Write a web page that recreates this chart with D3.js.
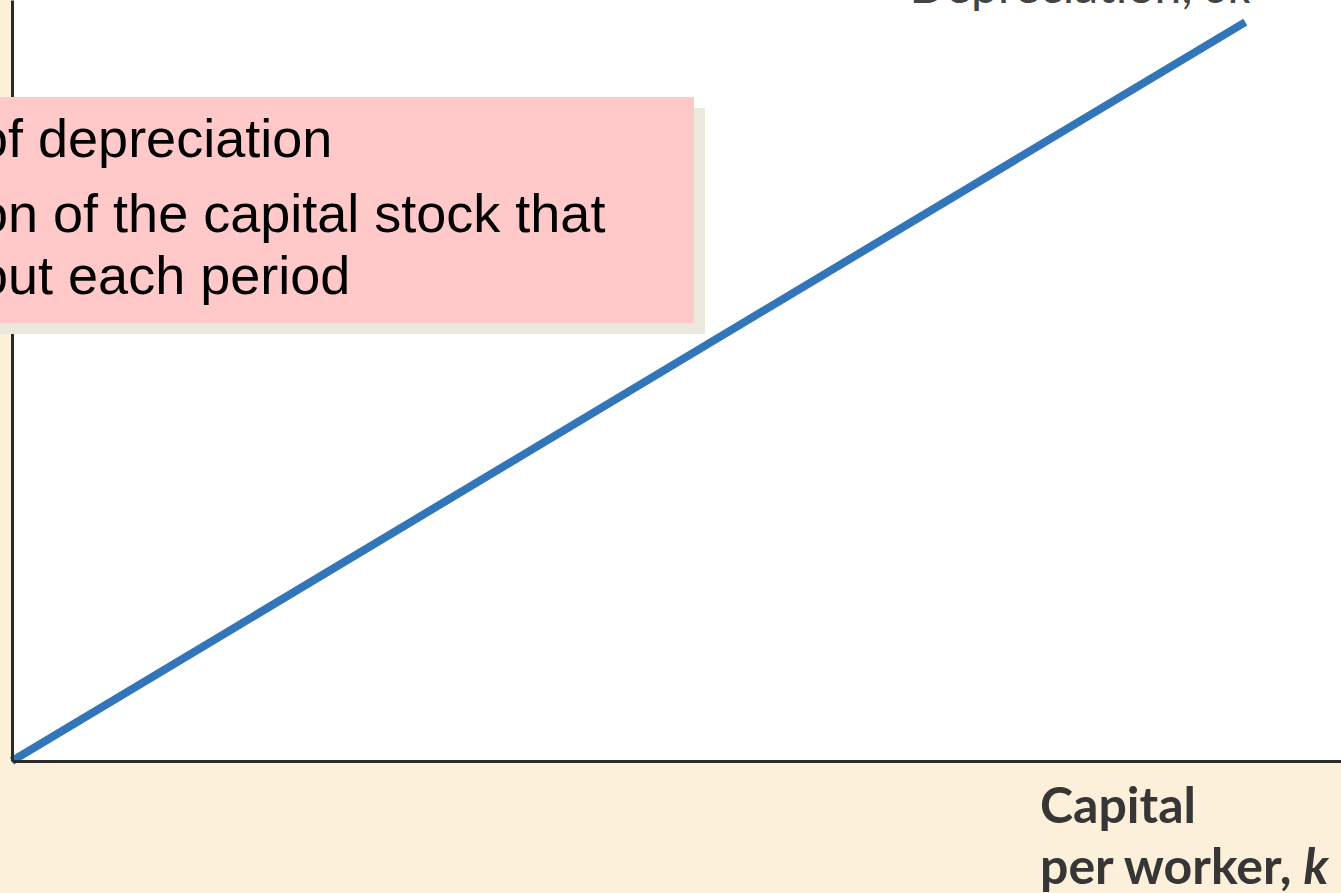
<!DOCTYPE html>
<html>
<head>
<meta charset="utf-8">
<script src="https://cdn.jsdelivr.net/npm/d3@7"></script>
<style>
  html, body { margin: 0; padding: 0; background: #fdf0da; overflow: hidden; }
  svg { display: block; }
</style>
</head>
<body>
<div id="chart"></div>
<script>
const width = 1341, height = 893;
const plot = {left: 12, top: 0, right: 1341, bottom: 761};

// capital per worker k and depreciation δk (arbitrary units)
const capital = [0, 9.28];
const depreciation = [0, 9.71];

const axisLabelX = ["Capital", "per worker, "];
const curveLabel = "Depreciation, ";
const noteLines = ["of depreciation", "on of the capital stock that", "out each period"];

const svg = d3.select("#chart")
  .append("svg")
  .attr("width", width)
  .attr("height", height);

// page background and white plot panel
svg.append("rect")
  .attr("width", width).attr("height", height)
  .attr("fill", "#fdf0da");
svg.append("rect")
  .attr("x", plot.left).attr("y", plot.top)
  .attr("width", plot.right - plot.left).attr("height", plot.bottom - plot.top)
  .attr("fill", "#ffffff");

var x = d3.scaleLinear().domain([0, 10]).range([plot.left, plot.right]);
var y = d3.scaleLinear().domain([0, 10]).range([plot.bottom, plot.top]);

const pts = capital.map((k, i) => ({k: k, d: depreciation[i]}));

svg.append("path")
  .datum(pts)
  .attr("d", d3.line().x(d => x(d.k)).y(d => y(d.d)))
  .attr("fill", "none")
  .attr("stroke", "#3275b8")
  .attr("stroke-width", 8);

// axes, no ticks
svg.append("g")
  .attr("transform", `translate(0, ${plot.bottom})`)
  .call(d3.axisBottom(x).tickValues([]).tickSizeOuter(0))
  .select(".domain")
  .attr("stroke", "#2b2b2b").attr("stroke-width", 3);
svg.append("g")
  .attr("transform", `translate(${plot.left}, 0)`)
  .call(d3.axisLeft(y).tickValues([]).tickSizeOuter(0))
  .select(".domain")
  .attr("stroke", "#2b2b2b").attr("stroke-width", 3);

const labelFont = "Lato, 'Open Sans', sans-serif";

// curve label at the top (mostly cut off, as in the source)
const cl = svg.append("text")
  .attr("x", 1252).attr("y", 3)
  .attr("text-anchor", "end")
  .attr("font-family", labelFont)
  .attr("font-size", 48)
  .attr("fill", "#444");
cl.append("tspan").text(curveLabel);
cl.append("tspan").attr("font-style", "italic").text("δk");

// x axis label
svg.append("text")
  .attr("x", 1040).attr("y", 823)
  .attr("font-family", labelFont)
  .attr("font-size", 50)
  .attr("font-weight", "bold")
  .attr("fill", "#363636")
  .text(axisLabelX[0]);
const xl = svg.append("text")
  .attr("x", 1040).attr("y", 884)
  .attr("font-family", labelFont)
  .attr("font-size", 50)
  .attr("font-weight", "bold")
  .attr("fill", "#363636");
xl.append("tspan").text(axisLabelX[1]);
xl.append("tspan").attr("font-style", "italic").text("k");

// pink note box with shadow
svg.append("rect")
  .attr("x", 0).attr("y", 108)
  .attr("width", 705).attr("height", 226)
  .attr("fill", "#ebe8dc");
svg.append("rect")
  .attr("x", 0).attr("y", 97)
  .attr("width", 694).attr("height", 226)
  .attr("fill", "#ffc9c9");

const baselines = [157, 232, 294];
svg.append("g")
  .selectAll("text")
  .data(noteLines)
  .enter().append("text")
  .attr("x", -22)
  .attr("y", (d, i) => baselines[i])
  .attr("font-family", "'Liberation Sans', Arial, sans-serif")
  .attr("font-size", 54)
  .attr("fill", "#000")
  .text(d => d);
</script>
</body>
</html>
